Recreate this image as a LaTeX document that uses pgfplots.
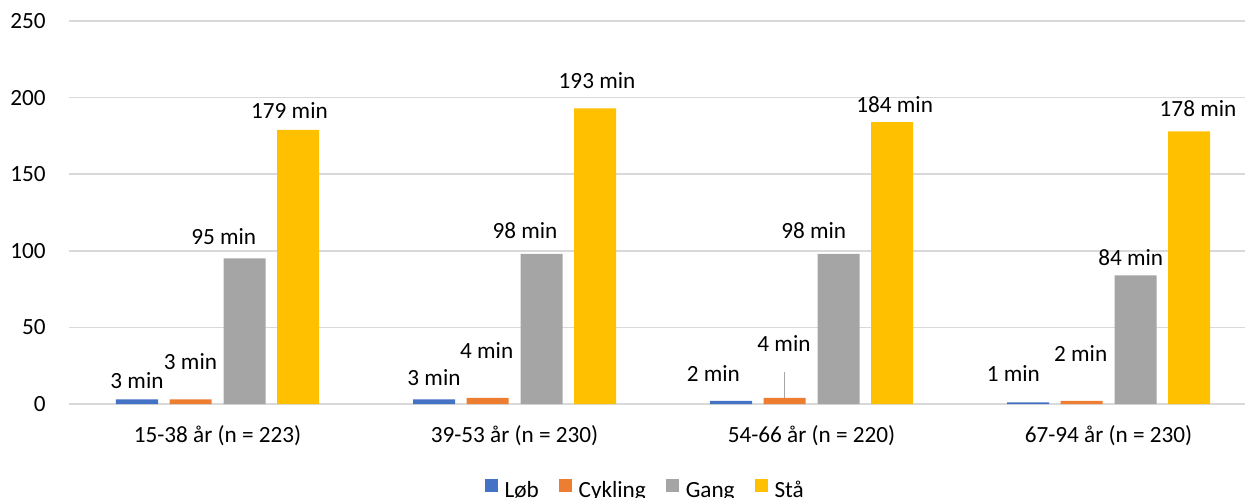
\documentclass[border=0pt]{standalone}
\usepackage{pgfplots}
\pgfplotsset{compat=1.18}
\usepackage{pgfplotstable}
\usepackage{fontspec}
\setmainfont{Carlito}

\definecolor{loeb}{HTML}{4472C4}
\definecolor{cykling}{HTML}{ED7D31}
\definecolor{gang}{HTML}{A5A5A5}
\definecolor{staa}{HTML}{FFC000}
\definecolor{gridgrey}{HTML}{D9D9D9}
\definecolor{leader}{HTML}{A6A6A6}

% minutes per day by age group; dx/dy move the value label (pt)
\pgfplotstableread{
x y dx dy
0 3 0 5.55
1 3 0 7.2
2 2 -8.85 9.6
3 1 -7.35 10.4
}\loebdata
\pgfplotstableread{
x y dx dy
0 3 0 15.2
1 4 -0.4 19.8
2 4 -0.25 23.1
3 2 -0.4 19.6
}\cyklingdata
\pgfplotstableread{
x y dx dy
0 95 -10.4 6.75
1 98 -8.25 7.8
2 98 -12.4 7.45
3 84 -2.4 4.8
}\gangdata
\pgfplotstableread{
x y dx dy
0 179 -4.25 5.75
1 193 1 10
2 184 1.35 4.9
3 178 4.5 7.65
}\staadata

% #1 = fill colour, #2 = bar offset within the group (pt)
\pgfplotsset{
  valbar/.style 2 args={
    ybar, draw=none, fill=#1, bar width=21pt, bar shift=#2pt,
    visualization depends on={\thisrow{dx}\as\dx},
    visualization depends on={\thisrow{dy}\as\dy},
    nodes near coords={\pgfmathprintnumber{\pgfplotspointmeta}~min},
    nodes near coords style={anchor=base, inner sep=0pt, text=black,
      xshift=#2pt+\dx pt, yshift=\dy pt},
  },
}

\begin{document}
\fontsize{11.6}{14}\selectfont
\begin{tikzpicture}
\begin{axis}[
  scale only axis,
  width=588pt, height=191.5pt,
  xmin=-0.5, xmax=3.4596,
  ymin=0, ymax=250,
  ytick={0,50,100,150,200,250},
  xtick={0,1,2,3},
  xticklabels={15-38 år (n = 223),39-53 år (n = 230),54-66 år (n = 220),67-94 år (n = 230)},
  /pgf/number format/assume math mode=true,
  axis line style={draw=none},
  major tick length=0pt,
  ymajorgrids,
  grid style={color=gridgrey, line width=0.75pt},
  yticklabel style={anchor=base east, inner sep=0pt, xshift=-11.5pt, yshift=-3.8pt},
  xticklabel style={anchor=base, inner sep=0pt, yshift=-19.35pt},
  legend columns=-1,
  legend style={
    at={(axis description cs:0.3531,-0.2245)}, anchor=west,
    draw=none, fill=none, inner sep=0pt,
    nodes={inner sep=0pt},
    /tikz/every odd column/.append style={column sep=3.25pt},
    /tikz/every even column/.append style={column sep=10pt},
  },
  legend image code/.code={\fill[#1] (0pt,-0.2pt) rectangle (6.7pt,6.5pt);},
]
\addplot[valbar={loeb}{-40.25}] table[x=x,y=y] {\loebdata};
\addplot[valbar={cykling}{-13.5}] table[x=x,y=y] {\cyklingdata};
\addplot[valbar={gang}{13.5}] table[x=x,y=y] {\gangdata};
\addplot[valbar={staa}{40.25}] table[x=x,y=y] {\staadata};
\legend{Løb,Cykling,Gang,Stå}
% leader line for the lifted label of the 54-66 group
\draw[leader, line width=0.6pt] ([xshift=-13.5pt]axis cs:2,4) -- ++(0pt,13pt);
\coordinate (o) at (rel axis cs:0,0);
\end{axis}
\pgfresetboundingbox
\path (o) ++(-34.5pt,-46.5pt) rectangle ++(622.5pt,248.5pt);
\end{tikzpicture}
\end{document}
